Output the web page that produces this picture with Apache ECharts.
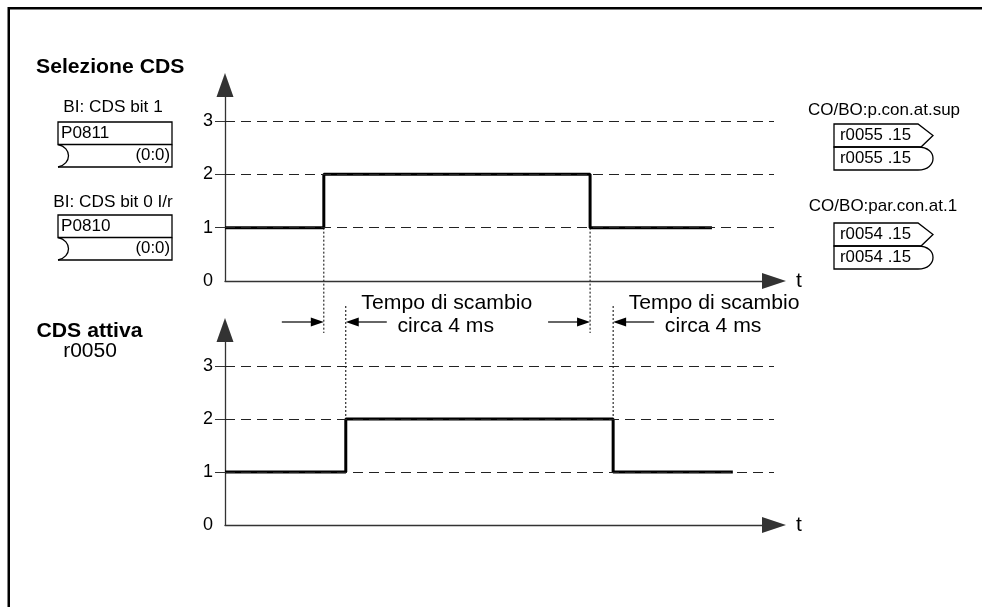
<!DOCTYPE html>
<html>
<head>
    <meta charset="utf-8">
    <title>Selezione CDS</title>
    <style>
        html, body { margin: 0; padding: 0; background: #fff; }
        #main { width: 982px; height: 607px; }
    </style>
</head>
<body>
<div id="main"></div>
<script src="https://cdn.jsdelivr.net/npm/echarts@6.0.0/dist/echarts.min.js"></script>
<script>
    // dati (tempo in unita' arbitrarie 0..100)
    var levelLabels = [0, 1, 2, 3];
    var gridLevels = [1, 2, 3];
    var selTime = [0, 18.0, 66.5, 88.7];   // Selezione CDS
    var selValue = [1, 2, 1, 1];
    var actTime = [0, 22.0, 70.7, 92.5];   // CDS attiva r0050
    var actValue = [1, 2, 1, 1];

    var FONT = "'Liberation Sans', Arial, sans-serif";
    var SX = 1.05;

    function pairs(xs, ys) {
        return xs.map(function (x, i) { return [x, ys[i]]; });
    }

    function xAxisOpt(idx) {
        return {
            type: 'value', gridIndex: idx, min: 0, max: 100,
            name: 't', nameLocation: 'end', nameGap: 22,
            nameTextStyle: { fontSize: 21, color: '#000', fontFamily: FONT },
            axisLine: { show: true, symbol: ['none', 'triangle'], symbolSize: [16, 24],
                lineStyle: { color: '#333', width: 1.3 } },
            axisTick: { show: false },
            axisLabel: { show: false },
            splitLine: { show: false }
        };
    }

    function yAxisOpt(idx, max) {
        return {
            type: 'value', gridIndex: idx, min: 0, max: max, interval: 1,
            axisLine: { show: true, symbol: ['none', 'triangle'], symbolSize: [17, 24],
                lineStyle: { color: '#333', width: 1.3 } },
            axisTick: { show: true, length: 10, customValues: gridLevels,
                lineStyle: { color: '#333', width: 1 } },
            axisLabel: { customValues: levelLabels, margin: 12, fontSize: 18, color: '#000', fontFamily: FONT,
                formatter: function (v) { return Number.isInteger(v) ? String(v) : ''; } },
            splitLine: { show: false }
        };
    }

    function signal(idx, data) {
        return {
            type: 'line', xAxisIndex: idx, yAxisIndex: idx, step: 'end',
            data: data, symbol: 'none', silent: true,
            lineStyle: { color: '#000', width: 3 },
            markLine: {
                silent: true, symbol: ['none', 'none'], label: { show: false },
                lineStyle: { type: [10, 6], color: '#222', width: 1.1 },
                data: gridLevels.map(function (v) { return { yAxis: v }; })
            }
        };
    }

    var chart = echarts.init(document.getElementById('main'));

    var option = {
        animation: false,
        backgroundColor: '#fff',
        grid: [
            { left: 225, top: 85, width: 549, height: 196 },
            { left: 225, top: 330, width: 549, height: 195 }
        ],
        xAxis: [xAxisOpt(0), xAxisOpt(1)],
        yAxis: [yAxisOpt(0, 3.675), yAxisOpt(1, 3.68)],
        series: [signal(0, pairs(selTime, selValue)), signal(1, pairs(actTime, actValue))]
    };
    chart.setOption(option);

    // elementi del disegno
    var stroke = { stroke: '#000', lineWidth: 1.3, fill: null };

    function txt(x, y, s, size, align, bold) {
        return {
            type: 'text', x: x, y: y, scaleX: SX, silent: true,
            style: { text: s, fontSize: size, fontFamily: FONT, fontWeight: bold ? 'bold' : 'normal',
                fill: '#000', align: align || 'center', verticalAlign: 'middle' }
        };
    }

    function leftBox(y0, label) {
        var x0 = 58, x1 = 172, ym = y0 + 22.5, y1 = y0 + 45;
        return [
            { type: 'rect', shape: { x: x0, y: y0, width: x1 - x0, height: ym - y0 }, style: stroke },
            { type: 'polyline', shape: { points: [[x0, y1], [x1, y1], [x1, ym]] }, style: stroke },
            { type: 'bezierCurve', shape: { x1: x0, y1: ym, cpx1: x0 + 14, cpy1: ym + 3, cpx2: x0 + 14, cpy2: y1 - 3, x2: x0, y2: y1 }, style: stroke },
            txt(61, y0 + 11.5, label, 16.3, 'left'),
            txt(170, ym + 11.5, '(0:0)', 16, 'right')
        ];
    }

    function rightBox(y0, label) {
        var x0 = 834, xr = 918, tip = 933, ym = y0 + 23, y1 = y0 + 46;
        return [
            { type: 'polygon', shape: { points: [[x0, y0], [xr, y0], [tip, y0 + 11.5], [xr + 3, ym], [x0, ym]] }, style: stroke },
            { type: 'polyline', shape: { points: [[xr, ym], [x0, ym], [x0, y1], [xr, y1]] }, style: stroke },
            { type: 'bezierCurve', shape: { x1: xr, y1: ym, cpx1: xr + 20, cpy1: ym, cpx2: xr + 20, cpy2: y1, x2: xr, y2: y1 }, style: stroke },
            txt(840, y0 + 11.5, label, 16, 'left'),
            txt(840, ym + 11.5, label, 16, 'left')
        ];
    }

    var dotted = { stroke: '#000', lineWidth: 1, lineDash: [2, 2] };
    var thin = { stroke: '#000', lineWidth: 1.2 };

    function marker(topX, topY, botX, botY) {
        var ay = 322;
        return [
            { type: 'line', shape: { x1: topX, y1: topY, x2: topX, y2: 333 }, style: dotted },
            { type: 'line', shape: { x1: botX, y1: 306, x2: botX, y2: botY }, style: dotted },
            { type: 'line', shape: { x1: topX - 42, y1: ay, x2: topX - 12, y2: ay }, style: thin },
            { type: 'polygon', shape: { points: [[topX, ay], [topX - 13, ay - 4.5], [topX - 13, ay + 4.5]] }, style: { fill: '#000' } },
            { type: 'line', shape: { x1: botX + 41, y1: ay, x2: botX + 12, y2: ay }, style: thin },
            { type: 'polygon', shape: { points: [[botX, ay], [botX + 13, ay - 4.5], [botX + 13, ay + 4.5]] }, style: { fill: '#000' } },
            txt(botX + 101, 303, 'Tempo di scambio', 20.2),
            txt(botX + 100, 326, 'circa 4 ms', 20.2)
        ];
    }

    var pTopUp = chart.convertToPixel({ gridIndex: 0 }, [selTime[1], selValue[0]]);
    var pTopDown = chart.convertToPixel({ gridIndex: 0 }, [selTime[2], selValue[2]]);
    var pBotUp = chart.convertToPixel({ gridIndex: 1 }, [actTime[1], actValue[1]]);
    var pBotDown = chart.convertToPixel({ gridIndex: 1 }, [actTime[2], actValue[1]]);

    var elements = [
        { type: 'polyline', shape: { points: [[8.75, 607], [8.75, 8.25], [982, 8.25]] }, style: { stroke: '#000', lineWidth: 2.5, fill: null } },
        txt(36, 67.5, 'Selezione CDS', 20.2, 'left', true),
        txt(113, 107, 'BI: CDS bit 1', 16.4),
        txt(113, 202, 'BI: CDS bit 0 I/r', 16.4),
        txt(89.5, 331.5, 'CDS attiva', 20.2, 'center', true),
        txt(90, 351, 'r0050', 20),
        txt(884, 111, 'CO/BO:p.con.at.sup', 16.2),
        txt(883, 207, 'CO/BO:par.con.at.1', 16.2)
    ];
    elements = elements
        .concat(leftBox(122, 'P0811'))
        .concat(leftBox(215, 'P0810'))
        .concat(rightBox(124, 'r0055 .15'))
        .concat(rightBox(223, 'r0054 .15'))
        .concat(marker(pTopUp[0], pTopUp[1], pBotUp[0], pBotUp[1]))
        .concat(marker(pTopDown[0], pTopDown[1], pBotDown[0], pBotDown[1]));

    chart.setOption({ graphic: { elements: elements } });

    window.onresize = function () {
        chart.resize();
    };
</script>
</body>
</html>
